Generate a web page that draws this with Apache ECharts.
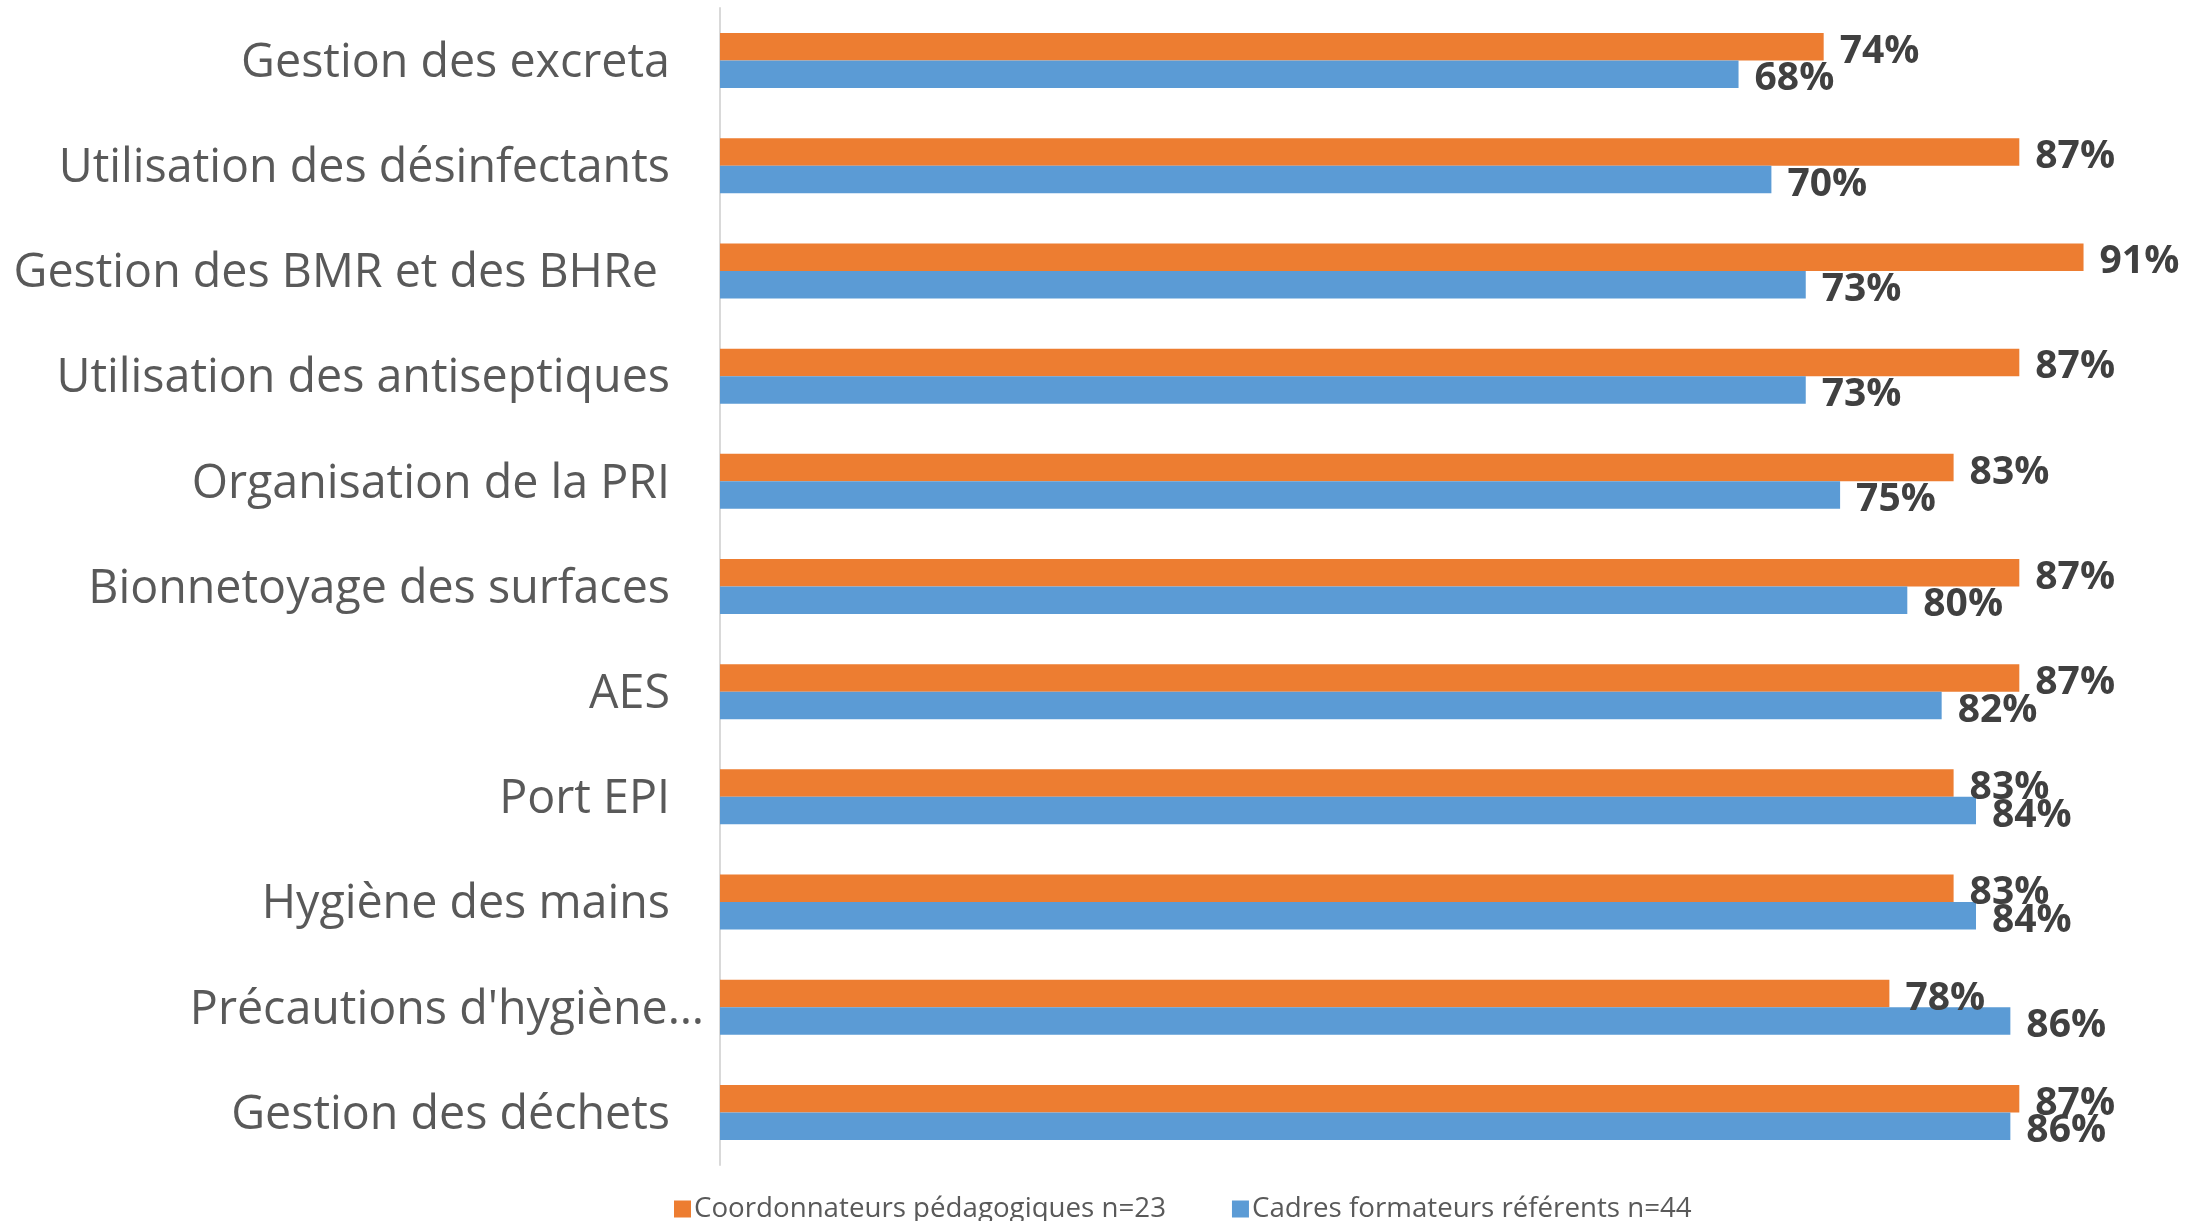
<!DOCTYPE html>
<html>
<head>
<meta charset="utf-8">
<script src="https://cdn.jsdelivr.net/npm/echarts@6/dist/echarts.min.js"></script>
<style>
html,body{margin:0;padding:0;background:#fff;}
#chart{width:2206px;height:1221px;}
</style>
</head>
<body>
<div id="chart"></div>
<script>
const categories = [
  "Gestion des excreta",
  "Utilisation des désinfectants",
  "Gestion des BMR et des BHRe ",
  "Utilisation des antiseptiques",
  "Organisation de la PRI",
  "Bionnetoyage des surfaces",
  "AES",
  "Port EPI",
  "Hygiène des mains",
  "Précautions d'hygiène…",
  "Gestion des déchets"
];
const seriesNames = ["Coordonnateurs pédagogiques n=23", "Cadres formateurs référents n=44"];
const coordonnateurs = [73.9, 87.0, 91.3, 87.0, 82.6, 87.0, 87.0, 82.6, 82.6, 78.3, 87.0];
const cadres = [68.2, 70.4, 72.7, 72.7, 75.0, 79.5, 81.8, 84.1, 84.1, 86.4, 86.4];

const FONT = "'Open Sans', 'Liberation Sans', sans-serif";
const chart = echarts.init(document.getElementById('chart'), null, {renderer: 'canvas'});

const labelStyle = {
  show: true,
  position: 'right',
  distance: 16,
  offset: [0, 5],
  formatter: p => Math.round(p.value) + '%',
  color: '#404040',
  fontFamily: FONT,
  fontWeight: 'bold',
  fontSize: 39
};

chart.setOption({
  backgroundColor: '#ffffff',
  animation: false,
  grid: {left: 720, right: 0, top: 8, bottom: 56, containLabel: false},
  legend: {
    data: seriesNames,
    left: 669,
    top: 1190,
    icon: 'rect',
    itemWidth: 17,
    itemHeight: 17,
    itemGap: 66,
    textStyle: {fontFamily: FONT, fontSize: 27.7, color: '#595959', padding: [0, 0, 0, -2]}
  },
  xAxis: {
    type: 'value',
    min: 0,
    max: 99.5,
    show: false
  },
  yAxis: {
    type: 'category',
    data: categories,
    inverse: true,
    axisLine: {show: true, lineStyle: {color: '#d9d9d9', width: 2}},
    axisTick: {show: false},
    splitLine: {show: false},
    axisLabel: {
      margin: 16,
      fontFamily: FONT,
      fontSize: 46.6,
      color: '#595959',
      formatter: v => (v.indexOf('Précautions') === 0 ? '{b|' + v + '}' : '{a|' + v + '}'),
      rich: {
        a: {fontFamily: FONT, fontSize: 46.6, color: '#595959', padding: [6, 34, 0, 0]},
        b: {fontFamily: FONT, fontSize: 46.6, color: '#595959', padding: [6, 0, 0, 0]}
      }
    }
  },
  series: [
    {
      name: seriesNames[0],
      type: 'bar',
      data: coordonnateurs,
      itemStyle: {color: '#ED7D31'},
      barGap: '0%',
      barCategoryGap: '47.7%',
      label: labelStyle
    },
    {
      name: seriesNames[1],
      type: 'bar',
      data: cadres,
      itemStyle: {color: '#5B9BD5'},
      barGap: '0%',
      barCategoryGap: '47.7%',
      label: labelStyle
    }
  ]
});
</script>
</body>
</html>
